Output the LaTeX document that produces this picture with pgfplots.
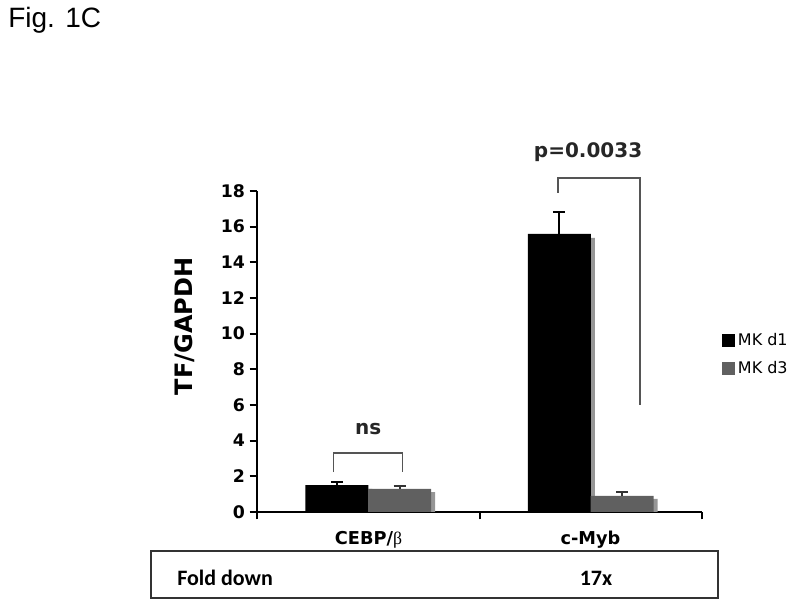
\documentclass[border=0pt]{standalone}
\usepackage{fontspec}
\setmainfont{DejaVu Sans}
\newfontfamily\arial{Liberation Sans}
\newfontfamily\calibri{Carlito}
\newfontfamily\symb{Liberation Serif}
\usepackage{pgfplots}
\pgfplotsset{compat=1.18}
\definecolor{bargray}{RGB}{96,96,96}
\definecolor{shadowgray}{RGB}{150,150,150}
\definecolor{brk}{RGB}{85,85,85}

\begin{document}
\begin{tikzpicture}
% frame of the whole figure, 1 unit = 1 px of the reference
\begin{scope}[x=0.75pt,y=0.75pt]
\path (0,0) rectangle (800,609);
\node[anchor=base west,font=\arial\fontsize{21}{21}\selectfont,inner sep=0] at (8,581) {Fig. 1C};
\end{scope}

\begin{axis}[
    at={(192.75pt,72.75pt)}, anchor=south west,
    width=333.75pt, height=240.75pt, scale only axis,
    xmin=-0.5, xmax=1.5, ymin=0, ymax=18,
    axis x line=bottom, axis y line=left,
    axis line style={-, line width=1.8pt},
    xtick={-0.5,0.5,1.5}, xticklabels={},
    ytick={0,2,...,18},
    tick align=outside, major tick length=5.5pt,
    tick style={line width=1.5pt, black},
    ticklabel style={font=\bfseries\fontsize{13}{13}\selectfont},
    /pgf/number format/assume math mode=true,
    ybar, bar width=47.25pt,
    clip=false,
    legend style={at={(1.045,0.565)}, anchor=north west, draw=none, fill=none,
        font=\fontsize{12}{13}\selectfont, row sep=6.5pt, inner sep=0pt},
    legend cell align=left,
    legend image code/.code={\fill[#1, draw=none] (0pt,-4.9pt) rectangle (9.75pt,4.9pt);},
]
% drop shadows
\addplot[fill=shadowgray, draw=none, bar shift=-20.6pt, forget plot]
    coordinates {(0,1.30) (1,15.37)};
\addplot[fill=shadowgray, draw=none, bar shift=26.6pt, forget plot]
    coordinates {(0,1.12) (1,0.73)};
% MK d1
\addplot[fill=black, draw=none, bar shift=-23.6pt,
    error bars/.cd, y dir=plus, y explicit,
    error bar style={line width=1.2pt, black},
    error mark options={rotate=90, mark size=4.5pt, line width=1.2pt, black}]
    coordinates {(0,1.51) +- (0,0.17) (1,15.59) +- (0,1.24)};
\addlegendentry{MK d1}
% MK d3
\addplot[fill=bargray, draw=none, bar shift=23.6pt,
    error bars/.cd, y dir=plus, y explicit,
    error bar style={line width=1.2pt, black!80},
    error mark options={rotate=90, mark size=4.5pt, line width=1.2pt, black!80}]
    coordinates {(0,1.29) +- (0,0.17) (1,0.90) +- (0,0.22)};
\addlegendentry{MK d3}

% significance brackets
\draw[brk, line width=1pt] (axis cs:-0.155,2.24) -- (axis cs:-0.155,3.31)
    -- (axis cs:0.155,3.31) -- (axis cs:0.155,2.24);
\node[anchor=base, font=\bfseries\fontsize{15}{15}\selectfont, inner sep=0, text=black!85]
    at (axis cs:0,4.32) {ns};
\draw[brk, line width=1pt] (axis cs:0.853,17.9) -- (axis cs:0.853,18.73)
    -- (axis cs:1.221,18.73) -- (axis cs:1.221,6.0);
\node[anchor=base, font=\bfseries\fontsize{15}{15}\selectfont, inner sep=0, text=black!85]
    at (axis cs:0.988,19.9) {p=0.0033};
\end{axis}

\begin{scope}[x=0.75pt,y=0.75pt]
\node[rotate=90, font=\bfseries\fontsize{18}{18}\selectfont, inner sep=0] at (185,282.5) {TF/GAPDH};
\node[anchor=base, font=\bfseries\fontsize{13.3}{13.3}\selectfont, inner sep=0] at (368.5,64)
    {CEBP/{\symb\mdseries β}};
\node[anchor=base, font=\bfseries\fontsize{13.3}{13.3}\selectfont, inner sep=0] at (590.5,64) {c-Myb};
% fold-change table
\draw[line width=0.9pt, black!80] (151,11) rectangle (718,58);
\node[anchor=base west, font=\calibri\bfseries\fontsize{16.5}{16.5}\selectfont, inner sep=0] at (177,23) {Fold down};
\node[anchor=base, font=\calibri\bfseries\fontsize{16.5}{16.5}\selectfont, inner sep=0] at (596,23) {17x};
\end{scope}
\end{tikzpicture}
\end{document}
